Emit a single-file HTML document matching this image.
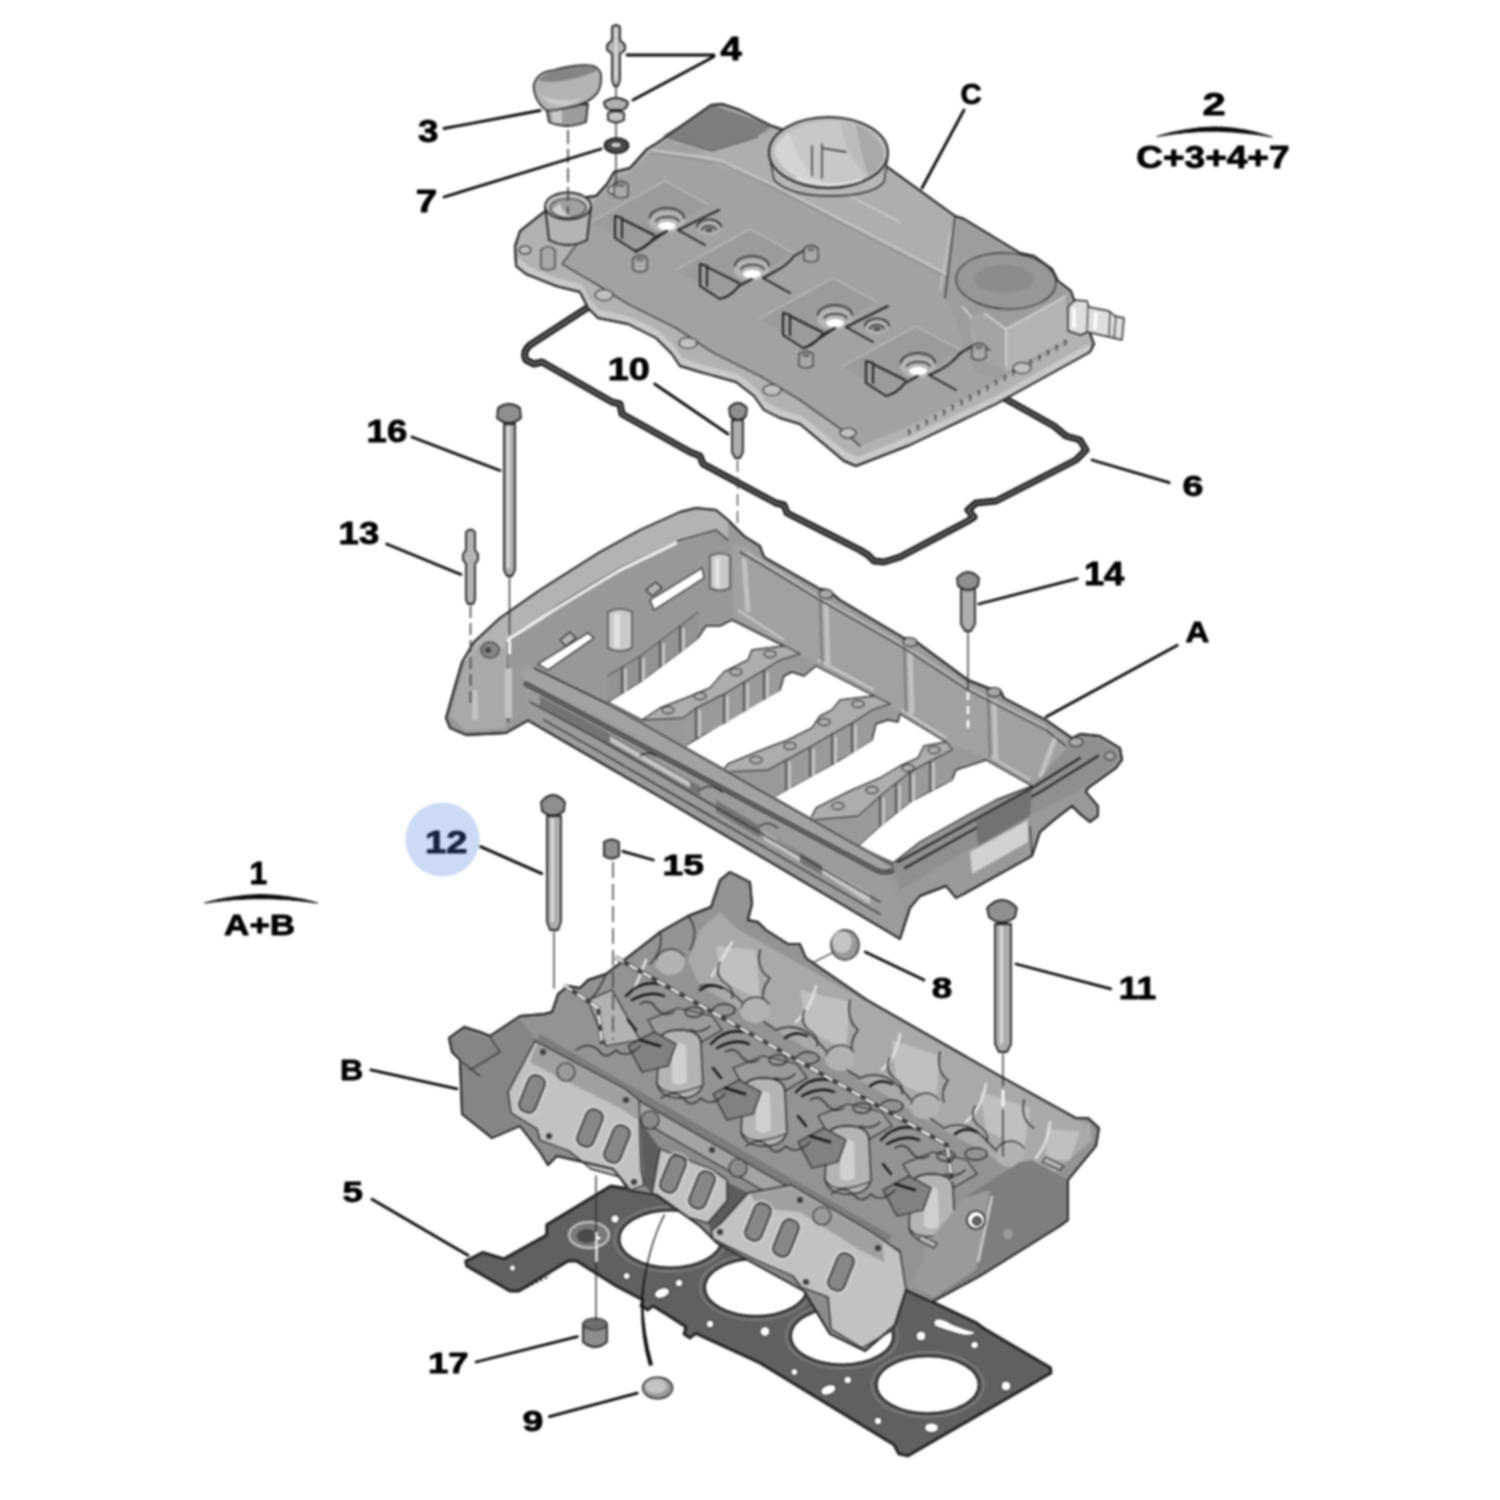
<!DOCTYPE html>
<html><head><meta charset="utf-8"><title>Cylinder head diagram</title>
<style>
html,body{margin:0;padding:0;background:#fff}
svg{display:block}
text{font-family:"Liberation Sans",sans-serif;font-weight:bold;stroke:#000;stroke-width:0.9px;stroke-linejoin:round}
</style></head><body>
<svg width="1500" height="1500" viewBox="0 0 1500 1500">
<rect width="1500" height="1500" fill="#fff"/>
<g filter="url(#soft)">
<defs><filter id="soft" x="0" y="0" width="1500" height="1500" filterUnits="userSpaceOnUse" color-interpolation-filters="sRGB"><feGaussianBlur stdDeviation="0.8"/></filter></defs>
<!-- 10_gasket5.svg -->
<g id="gasket5">
<path fill="#606060" stroke="#1f1f1f" stroke-width="2.8" stroke-linejoin="round" d="M465.6,1261 L482.7,1252.4 L504,1258.8 L546.7,1235 L546.7,1224.7 L610.7,1186 L700,1200 L928,1299.7 L975.7,1322.4 L984.8,1329 L1050.5,1367.7 L1051,1373 L907.7,1456 L898.7,1453.9 L894,1444.8 L760,1363 L696,1333.5 L690,1338 L684,1334 L686,1327 L666,1314 L653,1306 L648,1310 L641,1306 L643,1300 L617,1286.5 L576.5,1261 L568,1261 L519,1291 L510,1291 L466.7,1266 Z"/>
<g fill="#fff" stroke="#1f1f1f" stroke-width="2">
<ellipse cx="670.5" cy="1239" rx="51" ry="28.5"/>
<ellipse cx="756" cy="1287.5" rx="51" ry="28.5"/>
<ellipse cx="842" cy="1336" rx="51" ry="28.5"/>
<ellipse cx="927.7" cy="1384.7" rx="51" ry="28.5"/>
</g>
<g fill="none" stroke="#8a8a8a" stroke-width="1.3">
<ellipse cx="670.5" cy="1239" rx="56" ry="32.5"/>
<ellipse cx="756" cy="1287.5" rx="56" ry="32.5"/>
<ellipse cx="842" cy="1336" rx="56" ry="32.5"/>
<ellipse cx="927.7" cy="1384.7" rx="56" ry="32.5"/>
</g>
<ellipse cx="589" cy="1235" rx="20" ry="13" fill="#7a7a7a" stroke="#d0d0d0" stroke-width="2"/>
<ellipse cx="587" cy="1236" rx="10" ry="7" fill="#4a4a4a"/>
<g fill="#fff" stroke="#2a2a2a" stroke-width="1">
<circle cx="615" cy="1219" r="4.2"/><circle cx="512.5" cy="1268" r="3.2"/><circle cx="626.7" cy="1276" r="3.6"/>
<ellipse cx="662" cy="1293" rx="8" ry="5" transform="rotate(-20 662 1293)"/><circle cx="679" cy="1283" r="4"/><circle cx="710" cy="1324" r="4"/>
<circle cx="765" cy="1331.5" r="5"/><circle cx="794.4" cy="1372" r="3.6"/><ellipse cx="828.4" cy="1390" rx="8" ry="5" transform="rotate(-20 828 1390)"/><circle cx="847.7" cy="1380" r="4"/>
<circle cx="878" cy="1421" r="4"/><ellipse cx="931.5" cy="1427.8" rx="7" ry="5"/><circle cx="921" cy="1336" r="5"/><circle cx="974.6" cy="1345" r="4"/><circle cx="1006" cy="1386" r="5"/>
<path d="M934,1320 Q940,1316 952,1324 Q966,1330 976,1332 Q972,1338 958,1334 Q944,1330 934,1326Z"/>
<circle cx="599" cy="1238" r="2.5"/>
</g>
<path fill="none" stroke="#222" stroke-width="2" stroke-dasharray="2 3" d="M527,1287 L550,1276"/>
</g>

<!-- 20_head.svg -->
<g id="head">
<path stroke="#262626" stroke-width="1.9" stroke-linejoin="round" stroke-linecap="round" fill="#939393" d="M449,1038 L464,1027 L480,1032 L490,1036 L520,1016 L544,1014 L552,1012 L558,994 L568,986 L580,988 L588,980 L606,974 L650,940 L660,932 L688,916 L711,907 L720,880 L730,872 L750,882 L752,904 L748,920 L758,922 L766,930 L788,944 L800,944 L806,958 L867,1000 L1000,1076 L1076,1118 L1088,1118 L1099,1128 L1096,1146 L1068,1180 L1068,1220 L1060,1226 L980,1276 L932,1302 L906,1290 L895,1325 L865,1351 L830,1334 L804,1291 L717,1243 L700,1226 L657,1195 L631,1191 L613,1169 L557,1156 L548,1165 L540,1152 L520,1126 L492,1138 L462,1114 L460,1060 L452,1052 Z"/>
<!-- left lug darker -->
<path stroke="none" fill="#858585" d="M451,1040 L464,1030 L490,1039 L520,1019 L536,1040 L508,1110 L520,1124 L492,1135 L464,1112 L462,1058 L453,1050Z"/>
<path stroke="#2b2b2b" stroke-width="1.1" stroke-linejoin="round" stroke-linecap="round" fill="none" d="M490,1037 L500,1052 L470,1070 M462,1062 L480,1076"/>
<!-- back strip -->
<path stroke="none" fill="#a9a9a9" d="M736,928 L1076,1120 L1090,1124 L1092,1140 L1040,1186 L980,1150 L940,1128 L860,1080 L776,1030 L700,986 L688,960 L700,930 L720,912Z"/>
<g stroke="none" fill="#c0c0c0">
<path d="M716,946 L756,950 L760,1000 L720,980Z"/><path d="M800,990 L850,1002 L846,1050 L806,1030Z"/><path d="M892,1040 L940,1056 L936,1100 L896,1082Z"/><path d="M980,1092 L1030,1108 L1024,1150 L986,1130Z"/><path d="M1046,1128 L1080,1132 L1070,1160 L1046,1160Z"/>
</g>
<g fill="none" stroke="#e6e6e6" stroke-width="2.4" stroke-linecap="round">
<path d="M732,942 Q722,960 712,976"/><path d="M816,986 Q810,1010 796,1022"/><path d="M900,1034 Q896,1058 882,1070"/><path d="M986,1084 Q982,1108 966,1122"/><path d="M1050,1122 Q1048,1144 1036,1158"/><path d="M646,960 Q640,976 634,990"/>
</g>
<g stroke="#2b2b2b" stroke-linejoin="round" stroke-linecap="round" fill="none" stroke-width="1.4">
<path d="M760,950 Q756,970 770,978 Q760,990 764,1002"/><path d="M850,1000 Q846,1020 858,1030 Q850,1040 852,1052"/><path d="M940,1052 Q936,1072 948,1080 Q940,1092 944,1102"/><path d="M1024,1100 Q1020,1120 1034,1128"/>
<path d="M700,986 Q720,980 740,1000 Q760,1020 776,1030 Q800,1020 820,1044 Q840,1068 860,1078 Q884,1068 904,1092 Q924,1116 944,1128 Q966,1118 986,1140 Q1000,1156 1020,1166"/>
</g>
<!-- center tower zone blobs -->
<g stroke="none" fill="#b2b2b2">
<ellipse cx="670" cy="962" rx="15" ry="13"/><ellipse cx="755" cy="1010" rx="15" ry="13"/><ellipse cx="840" cy="1058" rx="15" ry="13"/><ellipse cx="925" cy="1106" rx="15" ry="13"/><ellipse cx="1010" cy="1154" rx="15" ry="13"/>
</g>
<g stroke="#2b2b2b" stroke-linejoin="round" stroke-linecap="round" fill="none" stroke-width="1.2"><path d="M656,960 a15,13 0 0 1 28,-4"/><path d="M741,1008 a15,13 0 0 1 28,-4"/><path d="M826,1056 a15,13 0 0 1 28,-4"/><path d="M911,1104 a15,13 0 0 1 28,-4"/><path d="M996,1152 a15,13 0 0 1 28,-4"/></g>
<path stroke="#262626" stroke-linejoin="round" stroke-linecap="round" stroke-width="1.2" fill="#b2b2b2" d="M588,1000 L612,990 L640,1040 L606,1046Z"/>
<g stroke="#262626" stroke-linejoin="round" stroke-linecap="round" stroke-width="1.2" fill="#9a9a9a">
<path d="M648,1020 l30,-12 l34,8 l10,14 l-24,14 l-40,-6z"/><path d="M733,1068 l30,-12 l34,8 l10,14 l-24,14 l-40,-6z"/><path d="M818,1116 l30,-12 l34,8 l10,14 l-24,14 l-40,-6z"/><path d="M903,1164 l30,-12 l34,8 l10,14 l-24,14 l-40,-6z"/>
</g>
<path stroke="#262626" stroke-linejoin="round" stroke-linecap="round" stroke-width="1.3" fill="#b4b4b4" d="M659,1044 q0,-14 20,-14 q22,0 22,14 l2,40 q-4,14 -22,14 q-20,0 -24,-14z"/><path stroke="none" fill="#cfcfcf" d="M672,1046 q8,-6 14,0 l1,36 q-8,6 -15,0z"/><path stroke="#2b2b2b" stroke-linejoin="round" stroke-linecap="round" fill="none" stroke-width="1.2" d="M659,1044 q0,-14 20,-14 q22,0 22,14 M657,1084 q10,16 44,2"/>
<path stroke="#262626" stroke-linejoin="round" stroke-linecap="round" stroke-width="1.3" fill="#b4b4b4" d="M743,1092 q0,-14 20,-14 q22,0 22,14 l2,40 q-4,14 -22,14 q-20,0 -24,-14z"/><path stroke="none" fill="#cfcfcf" d="M756,1094 q8,-6 14,0 l1,36 q-8,6 -15,0z"/><path stroke="#2b2b2b" stroke-linejoin="round" stroke-linecap="round" fill="none" stroke-width="1.2" d="M743,1092 q0,-14 20,-14 q22,0 22,14 M741,1132 q10,16 44,2"/>
<path stroke="#262626" stroke-linejoin="round" stroke-linecap="round" stroke-width="1.3" fill="#b4b4b4" d="M827,1140 q0,-14 20,-14 q22,0 22,14 l2,40 q-4,14 -22,14 q-20,0 -24,-14z"/><path stroke="none" fill="#cfcfcf" d="M840,1142 q8,-6 14,0 l1,36 q-8,6 -15,0z"/><path stroke="#2b2b2b" stroke-linejoin="round" stroke-linecap="round" fill="none" stroke-width="1.2" d="M827,1140 q0,-14 20,-14 q22,0 22,14 M825,1180 q10,16 44,2"/>
<path stroke="#262626" stroke-linejoin="round" stroke-linecap="round" stroke-width="1.3" fill="#b4b4b4" d="M911,1188 q0,-14 20,-14 q22,0 22,14 l2,40 q-4,14 -22,14 q-20,0 -24,-14z"/><path stroke="none" fill="#cfcfcf" d="M924,1190 q8,-6 14,0 l1,36 q-8,6 -15,0z"/><path stroke="#2b2b2b" stroke-linejoin="round" stroke-linecap="round" fill="none" stroke-width="1.2" d="M911,1188 q0,-14 20,-14 q22,0 22,14 M909,1228 q10,16 44,2"/>
<g stroke="#262626" stroke-linejoin="round" stroke-linecap="round" stroke-width="1.2" fill="#818181">
<path d="M628,1046 l26,-14 l22,12 l-8,22 l-26,6z"/><path d="M713,1094 l26,-14 l22,12 l-8,22 l-26,6z"/><path d="M798,1142 l26,-14 l22,12 l-8,22 l-26,6z"/><path d="M883,1190 l26,-14 l22,12 l-8,22 l-26,6z"/>
</g>
<g stroke="#2b2b2b" stroke-linejoin="round" stroke-linecap="round" fill="none" stroke-width="1.4">
<ellipse cx="694" cy="1012" rx="9" ry="5"/><ellipse cx="724" cy="1010" rx="11" ry="6"/><ellipse cx="778" cy="1060" rx="9" ry="5"/><ellipse cx="808" cy="1058" rx="11" ry="6"/><ellipse cx="862" cy="1108" rx="9" ry="5"/><ellipse cx="892" cy="1106" rx="11" ry="6"/><ellipse cx="946" cy="1156" rx="9" ry="5"/><ellipse cx="976" cy="1154" rx="11" ry="6"/>
</g>
<g fill="none" stroke="#141414" stroke-width="2.4" stroke-linecap="round">
<path d="M626,996 q14,-16 34,-12 M632,1000 q18,-10 32,-4 M628,1020 l8,10 M640,1040 l20,6 M700,990 q10,-8 22,-2"/><path d="M711,1044 q14,-16 34,-12 M717,1048 q18,-10 32,-4 M713,1068 l8,10 M725,1088 l20,6 M785,1038 q10,-8 22,-2"/><path d="M796,1092 q14,-16 34,-12 M802,1096 q18,-10 32,-4 M798,1116 l8,10 M810,1136 l20,6 M870,1086 q10,-8 22,-2"/><path d="M881,1140 q14,-16 34,-12 M887,1144 q18,-10 32,-4 M883,1164 l8,10 M895,1184 l20,6 M955,1134 q10,-8 22,-2"/>
</g>
<g stroke="#2b2b2b" stroke-linejoin="round" stroke-linecap="round" fill="none" stroke-width="1.3">
<path d="M576,1050 q14,-10 24,2 q6,8 16,-2 q10,10 24,-4"/><path d="M661,1098 q14,-10 24,2 q6,8 16,-2 q10,10 24,-4"/><path d="M746,1146 q14,-10 24,2 q6,8 16,-2 q10,10 24,-4"/><path d="M831,1194 q14,-10 24,2 q6,8 16,-2 q10,10 24,-4"/><path d="M606,974 Q600,990 590,1000 M660,932 Q664,950 650,964 M688,916 Q700,930 690,950"/>
</g>
<g stroke="#2b2b2b" stroke-linejoin="round" stroke-linecap="round" fill="none" stroke-width="1.4">
<path d="M640,1004 q10,-6 16,4 q8,10 18,4 M720,962 q-6,12 4,20 q10,6 8,16 M690,1030 q12,4 20,-4"/><path d="M725,1052 q10,-6 16,4 q8,10 18,4 M805,1010 q-6,12 4,20 q10,6 8,16 M775,1078 q12,4 20,-4"/><path d="M810,1100 q10,-6 16,4 q8,10 18,4 M890,1058 q-6,12 4,20 q10,6 8,16 M860,1126 q12,4 20,-4"/><path d="M895,1148 q10,-6 16,4 q8,10 18,4 M975,1106 q-6,12 4,20 q10,6 8,16 M945,1174 q12,4 20,-4"/>
</g>
<!-- right end face -->
<path stroke="none" fill="#7e7e7e" d="M964,1198 L1020,1162 L1032,1160 L1068,1180 L1068,1219 L980,1275 L934,1300 L912,1286 L940,1250Z"/>
<path stroke="none" fill="#9a9a9a" d="M964,1198 L990,1190 L976,1270 L934,1298 L912,1286 L930,1240Z"/>
<path fill="none" stroke="#cfcfcf" stroke-width="2.500" d="M992,1196 L978,1262"/>
<circle cx="1008" cy="1234" r="5" fill="#9a9a9a"/>
<circle cx="976" cy="1220" r="9" fill="#fff" stroke="#222" stroke-width="1.600"/><circle cx="977" cy="1221" r="4.500" fill="#666" stroke="#222"/>
<path stroke="#2b2b2b" stroke-width="1.1" stroke-linejoin="round" stroke-linecap="round" fill="#b5b5b5" d="M1042,1162 L1060,1170 L1064,1166 L1046,1157Z M918,1240 L934,1248 L937,1243 L921,1235Z"/>
<!-- intake flange -->
<path stroke="none" fill="#8c8c8c" d="M534,1040 L900,1250 L906,1290 L893,1330 L862,1348 L830,1330 L806,1292 L716,1242 L700,1226 L656,1196 L630,1192 L612,1170 L556,1156 L548,1164 L540,1152 L508,1112Z"/>
<path stroke="none" fill="#7c7c7c" d="M540,1034 L892,1236 L886,1244 L534,1042Z"/>
<path stroke="#262626" stroke-linejoin="round" stroke-linecap="round" stroke-width="1.1" fill="#a4a4a4" d="M535,1041 L900,1251 L902,1270 L640,1120 L537,1062Z"/>
<path stroke="none" fill="#5c5c5c" d="M641,1122 L660,1149 L652,1193 L644,1185Z M727,1182 L748,1193 L721,1223 L711,1231 L708,1223 L727,1201Z"/>
<g stroke="#262626" stroke-linejoin="round" stroke-linecap="round" fill="#c2c2c2" stroke-width="1.300">
<path d="M535,1041 L625,1089 L639,1100 L641,1169 L644,1185 L628,1191 L620,1177 L591,1169 L569,1151 L553,1145 L540,1140 L537,1129 L511,1113 L508,1092Z"/>
<path d="M660,1149 L711,1169 L727,1180 L727,1201 L708,1223 L687,1217 L652,1193Z"/>
<path d="M711,1231 L721,1223 L748,1193 L791,1185 L873,1233 L900,1252 L906,1290 L893,1330 L862,1348 L831,1329 L828,1297 L801,1287 L793,1276 L756,1260 L713,1239Z"/>
</g>
<g stroke="none" fill="#a0a0a0">
<path d="M537,1043 L625,1091 L638,1101 L638,1120 L620,1108 L560,1078 L530,1062Z"/>
<path d="M750,1194 L791,1187 L873,1235 L883,1243 L884,1262 L860,1250 L800,1212 L760,1208Z"/>
</g>
<g stroke="#262626" stroke-linejoin="round" stroke-linecap="round" fill="#878787" stroke-width="1.4">
<rect x="-8.500" y="-19" width="17" height="38" rx="7" transform="translate(532,1094) rotate(22)"/>
<rect x="-8.500" y="-19" width="17" height="38" rx="7" transform="translate(590,1128) rotate(22)"/>
<rect x="-8.500" y="-19" width="17" height="38" rx="7" transform="translate(617,1144) rotate(22)"/>
<rect x="-8.500" y="-19" width="17" height="38" rx="7" transform="translate(673,1174) rotate(22)"/>
<rect x="-8.500" y="-19" width="17" height="38" rx="7" transform="translate(702,1190) rotate(22)"/>
<rect x="-8.500" y="-19" width="17" height="38" rx="7" transform="translate(758,1222) rotate(22)"/>
<rect x="-8.500" y="-19" width="17" height="38" rx="7" transform="translate(786,1238) rotate(22)"/>
<rect x="-8.500" y="-19" width="17" height="38" rx="7" transform="translate(841,1272) rotate(22)"/>
</g>
<g fill="none" stroke="#d6d6d6" stroke-width="1.2">
<rect x="-11" y="-21.500" width="22" height="43" rx="9" transform="translate(532,1094) rotate(22)"/>
<rect x="-11" y="-21.500" width="22" height="43" rx="9" transform="translate(590,1128) rotate(22)"/>
<rect x="-11" y="-21.500" width="22" height="43" rx="9" transform="translate(617,1144) rotate(22)"/>
<rect x="-11" y="-21.500" width="22" height="43" rx="9" transform="translate(673,1174) rotate(22)"/>
<rect x="-11" y="-21.500" width="22" height="43" rx="9" transform="translate(702,1190) rotate(22)"/>
<rect x="-11" y="-21.500" width="22" height="43" rx="9" transform="translate(758,1222) rotate(22)"/>
<rect x="-11" y="-21.500" width="22" height="43" rx="9" transform="translate(786,1238) rotate(22)"/>
<rect x="-11" y="-21.500" width="22" height="43" rx="9" transform="translate(841,1272) rotate(22)"/>
</g>
<g stroke="none" fill="#3c3c3c"><circle cx="543" cy="1052" r="3"/><circle cx="549" cy="1136" r="3"/><circle cx="626" cy="1100" r="3"/><circle cx="634" cy="1182" r="3"/><circle cx="712" cy="1150" r="3"/><circle cx="720" cy="1232" r="3"/><circle cx="800" cy="1200" r="3"/><circle cx="806" cy="1282" r="3"/><circle cx="878" cy="1248" r="3"/></g>
<ellipse stroke="#2b2b2b" stroke-width="1.1" stroke-linejoin="round" stroke-linecap="round" cx="566" cy="1072" rx="9" ry="9" fill="#999"/><ellipse stroke="#2b2b2b" stroke-width="1.1" stroke-linejoin="round" stroke-linecap="round" cx="650" cy="1120" rx="9" ry="9" fill="#8a8a8a"/><ellipse stroke="#2b2b2b" stroke-width="1.1" stroke-linejoin="round" stroke-linecap="round" cx="738" cy="1168" rx="9" ry="9" fill="#8a8a8a"/><ellipse stroke="#2b2b2b" stroke-width="1.1" stroke-linejoin="round" stroke-linecap="round" cx="822" cy="1216" rx="9" ry="9" fill="#999"/>
<path stroke-linejoin="round" stroke-linecap="round" fill="none" stroke-width="1.9" stroke="#262626" d="M449,1038 L464,1027 L480,1032 L490,1036 L520,1016 L544,1014 L552,1012 L558,994 L568,986 L580,988 L588,980 L606,974 L650,940 L660,932 L688,916 L711,907 L720,880 L730,872 L750,882 L752,904 L748,920 L758,922 L766,930 L788,944 L800,944 L806,958 L867,1000 L1000,1076 L1076,1118 L1088,1118 L1099,1128 L1096,1146 L1068,1180 L1068,1220 L1060,1226 L980,1276 L932,1302 L906,1290 L895,1325 L865,1351 L830,1334 L804,1291 L717,1243 L700,1226 L657,1195 L631,1191 L613,1169 L557,1156 L548,1165 L540,1152 L520,1126 L492,1138 L462,1114 L460,1060 L452,1052 Z"/>
<!-- dashed gasket path -->
<path fill="none" stroke="#3a3a3a" stroke-width="3.8" d="M615,957 L947,1145 L952,1181 M564,985 L598,1008 L602,1044"/>
<path fill="none" stroke="#fff" stroke-width="2.3" stroke-dasharray="10 6" d="M615,957 L947,1145 L952,1181 M564,985 L598,1008 L602,1044"/>
</g>

<!-- 30_carrier.svg -->
<g id="carrier">
<!-- silhouette -->
<path stroke="#262626" stroke-width="1.9" stroke-linejoin="round" stroke-linecap="round" fill="#999" d="M446,718 L455,686 L462,662 L474,642 L500,618 L540,590 L600,552 L640,530 L680,512 L696,508 L716,510 L728,520 L744,536 L760,546 L764,557 L820,589 L828,590 L840,600 L904,638 L914,640 L968,680 L988,688 L1000,690 L1004,698 L1046,720 L1072,738 L1080,734 L1100,736 L1120,748 L1122,760 L1116,768 L1088,788 L1086,792 L1098,806 L1098,816 L1090,822 L1080,814 L1072,806 L1054,820 L1040,832 L1032,856 L964,894 L956,898 L946,886 L920,896 L910,908 L900,939 L880,927 L660,797 L640,785.5 L616,771.6 L564,741.4 L528,720.5 L506,733 L466,735 L450,728 Z"/>
<!-- arch top band (lighter) -->
<path stroke="none" fill="#b3b3b3" d="M462,662 L474,642 L500,618 L540,590 L600,552 L640,530 L680,512 L696,508 L716,510 L728,520 L728,540 L716,530 L680,540 L620,568 L560,604 L508,642 L508,666 L480,660 Z"/>
<path stroke="#2b2b2b" stroke-width="1.1" stroke-linejoin="round" stroke-linecap="round" fill="none" d="M508,642 L560,604 L620,568 L680,540 L716,530 L728,540 M508,642 V722"/>
<!-- arch inner wall -->
<path stroke="none" fill="#989898" d="M508,646 L560,610 L620,574 L680,545 L716,534 L730,545 L736,612 L700,640 L640,684 L606,700 L534,666 L508,666 Z"/>
<path stroke="#262626" stroke-linejoin="round" stroke-linecap="round" fill="#fff" stroke-width="1.2" d="M538,664 L588,633 L594,638 L548,670 Z"/>
<path stroke="#262626" stroke-linejoin="round" stroke-linecap="round" fill="#fff" stroke-width="1.2" d="M650,600 L702,568 L704,578 L654,610 Z"/>
<path fill="none" stroke="#f4f4f4" stroke-width="3.2" stroke-linecap="round" d="M508,640 L560,606 L620,570 L676,543"/>
<!-- pillars -->
<g stroke="#2b2b2b" stroke-width="1.1" stroke-linejoin="round" stroke-linecap="round" fill="#c9c9c9"><path d="M608,612 q12,-6 24,0 v36 q-12,6 -24,0z"/><path d="M710,556 q10,-5 20,0 v32 q-10,5 -20,0z"/></g>
<g stroke="none" fill="#e2e2e2"><path d="M614,614 h6 v34 h-6z"/><path d="M715,558 h5 v30 h-5z"/></g>
<g stroke="#2b2b2b" stroke-width="1.1" stroke-linejoin="round" stroke-linecap="round" fill="#b4b4b4"><path d="M560,640 l10,-8 l6,6 l-10,8z"/><path d="M646,590 l10,-8 l6,6 l-10,8z"/></g>
<!-- left end face -->
<path stroke="none" fill="#a9a9a9" d="M450,716 L458,686 L466,664 L478,646 L506,648 L506,728 L466,731 Z"/>
<ellipse stroke="#2b2b2b" stroke-width="1.1" stroke-linejoin="round" stroke-linecap="round" cx="490" cy="650" rx="9" ry="8" fill="#888"/>
<ellipse stroke="none" cx="488" cy="650" rx="3" ry="3" fill="#444"/>
<path stroke="none" fill="#c2c2c2" d="M505,668 h7 v50 h-7z M472,690 h6 v30 h-6z"/>
<!-- back wall inner face -->
<path stroke="none" fill="#a1a1a1" d="M744,546 L764,560 L820,594 L904,642 L968,684 L1046,724 L1072,742 L1032,784 L986,758 L946,742 L900,714 L874,694 L816,664 L784,646 L734,616 L732,545 Z"/>
<path fill="none" stroke="#cfcfcf" stroke-width="2" d="M738,610 L784,640 M818,660 L874,690 M902,710 L946,738 M990,756 L1030,780"/>
<path fill="none" stroke="#c4c4c4" stroke-width="1.8" d="M746,552 L820,598 L904,646 L968,688 L1046,728"/>
<path fill="none" stroke="#c2c2c2" stroke-width="5" d="M744,558 L748,612 M826,604 L828,664 M910,652 L912,714 M994,700 L996,760 M1056,736 L1040,778"/>
<path stroke-linejoin="round" stroke-linecap="round" fill="none" stroke-width="1" stroke="#555" d="M820,600 L822,664 M904,648 L906,712 M988,696 L990,758"/>
<path stroke="#2b2b2b" stroke-linejoin="round" stroke-linecap="round" fill="none" stroke-width="1.3" d="M740,552 L764,566 L820,600 L904,648 L968,690 L1046,730 L1066,746"/>
<!-- bays -->
<g stroke="#262626" stroke-linejoin="round" stroke-linecap="round" fill="#fff" stroke-width="1.4">
<path d="M608,702 L640,682 L680,652 L698,638 L706,626 L720,626 L732,620 L784,646 L752,650 L748,660 L724,672 L710,688 L686,698 L660,708 L642,720 Z"/>
<path d="M682,748 L744,710 L780,690 L784,676 L792,672 L804,676 L816,666 L874,696 L840,700 L832,710 L820,716 L812,728 L788,740 L772,746 L752,754 L728,764 L722,772 Z"/>
<path d="M768,800 L840,760 L872,740 L876,724 L888,720 L898,722 L900,714 L946,742 L924,746 L918,758 L900,766 L880,778 L852,790 L832,800 L816,808 L810,820 Z"/>
<path d="M858,846 L880,826 L910,802 L952,780 L956,770 L986,760 L1032,786 L996,800 L966,816 L920,842 L893,863 Z"/>
</g>
<!-- cross member ribs -->
<path stroke="none" fill="#939393" d="M608,702 L622,693 L640,682 L660,667 L680,652 L698,638 L698,612 L680,626 L660,641 L640,656 L622,667 L608,676Z"/>
<path fill="none" stroke="#c4c4c4" stroke-width="3" d="M625.5,692 V669 M643.5,681 V658 M663.5,666 V643 M683.5,651 V628 "/>
<path fill="none" stroke="#333" stroke-width="1.3" d="M622,693 V667 M640,682 V656 M660,667 V641 M680,652 V626 "/>
<path fill="none" stroke="#444" stroke-width="1" d="M698,612 L680,626 L660,641 L640,656 L622,667 L608,676"/>
<path stroke="none" fill="#9a9a9a" d="M683,748 L696,738 L724,724 L744,712 L764,700 L780,690 L780,660 L764,670 L744,682 L724,694 L696,708 L683,718Z"/>
<path fill="none" stroke="#c4c4c4" stroke-width="3" d="M699.5,737 V710 M727.5,723 V696 M747.5,711 V684 M767.5,699 V672 "/>
<path fill="none" stroke="#333" stroke-width="1.3" d="M696,738 V708 M724,724 V694 M744,712 V682 M764,700 V670 "/>
<path fill="none" stroke="#444" stroke-width="1" d="M780,660 L764,670 L744,682 L724,694 L696,708 L683,718"/>
<path stroke="none" fill="#9a9a9a" d="M768,800 L786,790 L810,777 L832,764 L852,753 L872,740 L872,710 L852,723 L832,734 L810,747 L786,760 L768,770Z"/>
<path fill="none" stroke="#c4c4c4" stroke-width="3" d="M789.5,789 V762 M813.5,776 V749 M835.5,763 V736 M855.5,752 V725 "/>
<path fill="none" stroke="#333" stroke-width="1.3" d="M786,790 V760 M810,777 V747 M832,764 V734 M852,753 V723 "/>
<path fill="none" stroke="#444" stroke-width="1" d="M872,710 L852,723 L832,734 L810,747 L786,760 L768,770"/>
<path stroke="none" fill="#9a9a9a" d="M858,846 L880,826 L896,813 L910,802 L930,791 L952,780 L952,750 L930,761 L910,772 L896,783 L880,796 L858,816Z"/>
<path fill="none" stroke="#c4c4c4" stroke-width="3" d="M883.5,825 V798 M899.5,812 V785 M913.5,801 V774 M933.5,790 V763 "/>
<path fill="none" stroke="#333" stroke-width="1.3" d="M880,826 V796 M896,813 V783 M910,802 V772 M930,791 V761 "/>
<path fill="none" stroke="#444" stroke-width="1" d="M952,750 L930,761 L910,772 L896,783 L880,796 L858,816"/>
<g stroke="#262626" stroke-linejoin="round" stroke-linecap="round" stroke-width="1" fill="#adadad">
<path d="M784,646 L752,650 L748,660 L724,672 L710,688 L686,698 L660,708 L642,720 L683,718 L696,708 L724,694 L744,682 L764,670 L780,660 L800,654Z"/>
<path d="M874,696 L840,700 L832,710 L820,716 L812,728 L788,740 L772,746 L752,754 L728,764 L722,772 L768,770 L786,760 L810,747 L832,734 L852,723 L872,710 L890,704Z"/>
<path d="M946,742 L924,746 L918,758 L900,766 L880,778 L852,790 L832,800 L816,808 L810,820 L858,816 L880,796 L896,783 L910,772 L930,761 L952,750Z"/>
</g>
<g stroke="#2b2b2b" stroke-linejoin="round" stroke-linecap="round" fill="none" stroke-width="1.1">
<ellipse cx="770" cy="654" rx="6" ry="3.500"/><ellipse cx="736" cy="672" rx="6" ry="3.500"/><ellipse cx="700" cy="696" rx="6" ry="3.500"/><ellipse cx="668" cy="710" rx="6" ry="3.500"/>
<ellipse cx="858" cy="704" rx="6" ry="3.500"/><ellipse cx="824" cy="722" rx="6" ry="3.500"/><ellipse cx="790" cy="746" rx="6" ry="3.500"/><ellipse cx="756" cy="760" rx="6" ry="3.500"/>
<ellipse cx="934" cy="750" rx="6" ry="3.500"/><ellipse cx="908" cy="768" rx="6" ry="3.500"/><ellipse cx="872" cy="790" rx="6" ry="3.500"/><ellipse cx="838" cy="806" rx="6" ry="3.500"/>
</g>
<!-- front rail -->
<path stroke="none" fill="#a2a2a2" d="M520,672 L534,666 L608,702 L893,864 L886,877 L600,716 L524,680Z"/>
<path stroke="none" fill="#9b9b9b" d="M524,680 L600,716 L886,877 L905,910 L900,937 L880,925 L660,795 L564,740 L528,719 Z"/>
<path stroke="none" fill="#737373" d="M540,696 L600,728 L700,786 L700,796 L600,740 L540,706Z M716,800 L760,826 L760,838 L716,812Z M776,838 L850,882 L850,892 L776,848Z"/>
<path stroke="none" fill="#c6c6c6" d="M610,736 L690,782 L690,788 L610,742Z M764,832 L800,854 L800,862 L764,840Z M822,866 L870,894 L870,904 L822,874Z"/>
<path stroke-linejoin="round" stroke-linecap="round" fill="none" stroke-width="4.6" stroke="#333" d="M526,684 L876,870 Q886,875 896,869 L1100,759"/>
<path stroke-linejoin="round" stroke-linecap="round" fill="none" stroke-width="1.6" stroke="#808080" d="M526,684 L876,870 Q886,875 896,869 L1100,759"/>
<path stroke="#2b2b2b" stroke-linejoin="round" stroke-linecap="round" fill="none" stroke-width="1.4" d="M534,668 L608,704 L893,866 M530,702 L600,740 L880,902 M544,720 L600,752 L880,914"/>
<path stroke="#2b2b2b" stroke-linejoin="round" stroke-linecap="round" fill="none" stroke-width="1.3" d="M640,756 q8,-6 16,0 M700,790 q10,-8 22,2 M760,826 q8,-6 18,2"/>
<!-- right end rail -->
<path stroke="none" fill="#8f8f8f" d="M1072,742 L1084,738 L1100,740 L1116,750 L1118,760 L1112,766 L1086,786 L1032,814 L964,852 L900,890 L893,866 L966,818 L996,802 L1032,788 Z"/>
<path stroke="#2b2b2b" stroke-linejoin="round" stroke-linecap="round" fill="none" stroke-width="2.2" d="M1080,758 L1032,788 L898,862 M1098,756 L1040,792 L905,868"/>
<path stroke="none" fill="#d2d2d2" d="M970,852 L1028,820 L1028,842 L972,874Z"/>
<path stroke="none" fill="#727272" d="M976,820 L1032,790 L1030,816 L978,846Z"/>
<path stroke="#2b2b2b" stroke-width="1.1" stroke-linejoin="round" stroke-linecap="round" fill="none" d="M1040,832 L1054,820 L1072,806 M1032,856 L1030,826"/>
<path stroke-linejoin="round" stroke-linecap="round" fill="none" stroke-width="1.9" stroke="#262626" d="M446,718 L455,686 L462,662 L474,642 L500,618 L540,590 L600,552 L640,530 L680,512 L696,508 L716,510 L728,520 L744,536 L760,546 L764,557 L820,589 L828,590 L840,600 L904,638 L914,640 L968,680 L988,688 L1000,690 L1004,698 L1046,720 L1072,738 L1080,734 L1100,736 L1120,748 L1122,760 L1116,768 L1088,788 L1086,792 L1098,806 L1098,816 L1090,822 L1080,814 L1072,806 L1054,820 L1040,832 L1032,856 L964,894 L956,898 L946,886 L920,896 L910,908 L900,939 L880,927 L660,797 L640,785.5 L616,771.6 L564,741.4 L528,720.5 L506,733 L466,735 L450,728 Z"/>
<!-- bosses on back rail -->
<g stroke="#2b2b2b" stroke-width="1.1" stroke-linejoin="round" stroke-linecap="round" fill="#a8a8a8"><ellipse cx="826" cy="594" rx="7" ry="4.5"/><ellipse cx="910" cy="642" rx="7" ry="4.5"/><ellipse cx="994" cy="692" rx="7" ry="4.5"/><ellipse cx="1076" cy="742" rx="7" ry="4.5"/><ellipse cx="1110" cy="756" rx="5" ry="4"/></g>
</g>

<!-- 40_gasket6.svg -->
<g id="gasket6" fill="none" stroke-linejoin="round" stroke-linecap="round">
<path id="g6p" stroke="#1e1e1e" stroke-width="7" d="M590,306 L530,345 Q522,352 526,360 L534,364 L542,362 L612,402 L620,404 L622,414 L690,452 L700,456 L703,464 L776,503 L784,505 L787,513 L860,550 L868,555 L874,561 L884,562 L900,557 L968,521 L974,517 L968,510 L976,503 L996,501 L1076,460 L1086,450 L1080,440 L1066,436 L1054,426 L1004,398"/>
<path stroke="#666" stroke-width="2.2" d="M590,306 L530,345 Q522,352 526,360 L534,364 L542,362 L612,402 L620,404 L622,414 L690,452 L700,456 L703,464 L776,503 L784,505 L787,513 L860,550 L868,555 L874,561 L884,562 L900,557 L968,521 L974,517 L968,510 L976,503 L996,501 L1076,460 L1086,450 L1080,440 L1066,436 L1054,426 L1004,398"/>
</g>

<!-- 50_cover.svg -->
<g id="cover">
<!-- flange / silhouette -->
<path stroke="#262626" stroke-width="1.9" stroke-linejoin="round" stroke-linecap="round" fill="#b2b2b2" d="M515,246 L520,231 L540,215 L560,200 L596,196 L607,184 L614,172 L630,168 L647,149 L657,143 L711,105 L722,104 L740,110 L772,126 L886,166 L955,216 L964,219 L1020,253 L1034,256 L1052,269 L1058,281 L1071,291 L1074,300 L1082,312 L1094,344 L1090,352 L996,404 L910,445 L856,466 L844,461 L800,424 L780,418 L764,410 L754,396 L736,382 L700,372 L680,366 L672,354 L656,338 L628,324 L598,318 L588,308 L580,292 L556,286 L526,274 L516,266 Z"/>
<!-- lighter vertical faces -->
<path stroke="none" fill="#c9c9c9" d="M517,256 L528,266 L556,278 L582,284 L590,300 L600,310 L628,316 L658,330 L674,346 L682,358 L700,364 L738,374 L756,388 L766,402 L782,410 L802,416 L846,452 L858,457 L910,436 L996,396 L1088,344 L1092,348 L1089,352 L996,403 L910,444 L856,465 L845,460 L800,423 L780,417 L764,409 L754,395 L736,381 L700,371 L680,365 L672,353 L656,337 L628,323 L598,317 L588,307 L580,291 L556,285 L526,273 L517,265Z"/>
<!-- top surface (body) -->
<path stroke="none" fill="#a2a2a2" d="M588,214 L596,200 L610,186 L616,176 L630,172 L650,152 L711,108 L740,113 L772,129 L886,169 L955,219 L964,222 L1020,256 L1034,259 L1050,271 L1056,283 L1069,293 L1070,300 L1066,330 L1068,342 L1000,380 L968,398 L905,428 L860,446 L842,430 L800,400 L760,376 L712,352 L676,328 L628,304 L596,284 L562,264 L580,240 Z"/>
<path stroke="#2b2b2b" stroke-linejoin="round" stroke-linecap="round" fill="none" stroke-width="1.2" d="M588,214 L580,240 L562,264 L596,284 L628,304 L676,328 L712,352 L760,376 L800,400 L842,430 L860,446"/>
<!-- ridge top face -->
<path stroke="none" fill="#aeaeae" d="M712,150 L764,134 L780,128 L886,168 L955,217 L947,276 L772,186 L690,154 Z"/>
<!-- ridge left slanted face -->
<path stroke="none" fill="#7e7e7e" d="M664,135 L714,105 L772,126 L756,137 L712,151 Z"/>
<path stroke-linejoin="round" stroke-linecap="round" fill="none" stroke-width="1" stroke="#555" d="M664,136 L712,151 L758,137"/>
<!-- ridge light lines -->
<path fill="none" stroke="#cacaca" stroke-width="1.8" d="M652,150 L720,160 L772,184 L947,274 M800,170 L900,222"/>
<path fill="none" stroke="#8a8a8a" stroke-width="1.2" d="M652,153 L720,163 L772,187 L946,277"/>
<path fill="none" stroke="#c4c4c4" stroke-width="1.6" d="M950,232 L940,290"/>
<path stroke="#2b2b2b" stroke-linejoin="round" stroke-linecap="round" fill="none" stroke-width="1.3" d="M955,217 L945,298"/>
<path stroke-linejoin="round" stroke-linecap="round" fill="none" stroke-width="1.9" stroke="#262626" d="M515,246 L520,231 L540,215 L560,200 L596,196 L607,184 L614,172 L630,168 L647,149 L657,143 L711,105 L722,104 L740,110 L772,126 L886,166 L955,216 L964,219 L1020,253 L1034,256 L1052,269 L1058,281 L1071,291 L1074,300 L1082,312 L1094,344 L1090,352 L996,404 L910,445 L856,466 L844,461 L800,424 L780,418 L764,410 L754,396 L736,382 L700,372 L680,366 L672,354 L656,338 L628,324 L598,318 L588,308 L580,292 L556,286 L526,274 L516,266 Z"/>
<!-- cylinder -->
<path stroke="#262626" stroke-linejoin="round" stroke-linecap="round" fill="#b6b6b6" stroke-width="1.3" d="M769,154 L774,180 Q790,196 830,196 Q872,196 884,182 L888,156 Z"/>
<ellipse stroke="#262626" stroke-linejoin="round" stroke-linecap="round" cx="828.500" cy="152.500" rx="59.500" ry="35.500" fill="#bcbcbc" stroke-width="2"/>
<path stroke="none" fill="#d4d4d4" d="M774,150 Q780,178 826,186 Q800,170 790,132 Q778,138 774,150Z"/>
<path stroke="none" fill="#c8c8c8" d="M790,132 Q800,170 826,186 Q850,186 868,176 Q846,160 840,121 Q810,120 790,132Z"/>
<path stroke="none" fill="#a9a9a9" d="M856,124 Q884,138 884,156 Q880,170 868,176 Q860,150 856,124Z"/>
<path stroke="#2b2b2b" stroke-linejoin="round" stroke-linecap="round" fill="none" stroke-width="1.3" d="M812,146 V176 M822,144 V178 M822,148 L846,152"/>
<path fill="none" stroke="#e4e4e4" stroke-width="2" d="M796,178 Q826,190 862,180"/>
<!-- right end: separator cap -->
<path stroke="none" fill="#9d9d9d" d="M957,220 L964,222 L1020,256 L1034,259 L1050,271 L1056,283 L1069,293 L1070,300 L1066,330 L1068,342 L1000,380 L975,372 L947,298 Z"/>
<path stroke="none" fill="#b3b3b3" d="M984,313 L1006,329 L1066,296 L1068,340 L1006,372 L975,350 L968,318Z"/>
<path stroke="none" fill="#a4a4a4" d="M968,318 L984,313 L1006,329 L1006,372 L980,360Z"/>
<ellipse stroke="#2b2b2b" stroke-width="1.1" stroke-linejoin="round" stroke-linecap="round" cx="1006" cy="281" rx="50" ry="28" fill="#979797" style="fill:#979797" transform="rotate(3 1006 281)"/>
<ellipse stroke="none" cx="1004" cy="279" rx="30" ry="14" fill="#8c8c8c"/>
<path fill="none" stroke="#d2d2d2" stroke-width="1.8" d="M984,313 L1006,329 L1066,296 M1006,329 V366 M962,306 L972,318"/>
<path stroke="#2b2b2b" stroke-width="1.1" stroke-linejoin="round" stroke-linecap="round" fill="none" d="M953,360 L964,351 L977,344 L990,350"/>
<!-- nozzle -->
<path stroke="#262626" stroke-linejoin="round" stroke-linecap="round" fill="#dedede" stroke-width="1.4" d="M1068,307 L1075,300 L1087,301 L1089,307 L1109,311 L1115,316 L1124,318 L1122,340 L1109,337 L1087,332 L1081,335 L1068,331 Z"/>
<path fill="none" stroke="#fff" stroke-width="3" d="M1074,308 L1074,328 M1096,312 L1095,330"/>
<path stroke="#2b2b2b" stroke-width="1.1" stroke-linejoin="round" stroke-linecap="round" fill="none" d="M1088,306 L1087,332 M1110,312 L1109,336 M1116,316 L1114,338"/>
<!-- teeth row along bottom right -->
<path fill="none" stroke="#333" stroke-width="1.7" stroke-dasharray="1.8 8.2" d="M1066,344 L968,401 L904,437"/>
<path fill="none" stroke="#333" stroke-width="3.6" stroke-dasharray="1.6 8.4" d="M1066,341 L968,398 L904,434"/>
<!-- filler neck -->
<path stroke="#262626" stroke-width="1.9" stroke-linejoin="round" stroke-linecap="round" fill="#b4b4b4" d="M545,206 L549,240 Q568,250 587,240 L591,206 Z"/>
<ellipse stroke="#262626" stroke-linejoin="round" stroke-linecap="round" cx="568" cy="206" rx="23" ry="13.5" fill="#c4c4c4" stroke-width="1.8"/>
<ellipse stroke="#2b2b2b" stroke-width="1.1" stroke-linejoin="round" stroke-linecap="round" cx="568" cy="208" rx="18" ry="9.5" fill="#a0a0a0"/><path stroke="none" fill="#d0d0d0" d="M552,210 q6,8 20,7 q-10,-4 -12,-14z"/>
<!-- bolt bosses on flange -->
<g stroke="#2b2b2b" stroke-width="1.1" stroke-linejoin="round" stroke-linecap="round" fill="#c0c0c0">
<ellipse cx="525" cy="250" rx="6" ry="4"/>
<ellipse cx="604" cy="295" rx="9" ry="5.5"/>
<ellipse cx="688" cy="343" rx="9" ry="5.5"/>
<ellipse cx="772" cy="390" rx="9" ry="5.5"/>
<ellipse cx="848" cy="433" rx="8" ry="5"/>
<ellipse cx="1022" cy="368" rx="9" ry="5.5"/>
<ellipse cx="616" cy="190" rx="8" ry="5"/>
</g>
<!-- post left front -->
<path stroke="#2b2b2b" stroke-width="1.1" stroke-linejoin="round" stroke-linecap="round" fill="#a8a8a8" d="M541,250 V268 Q548,272 555,268 V250 Q548,243 541,250Z"/>
<!-- wells -->
<g transform="translate(667,226)">
<path stroke="none" fill="#9b9b9b" d="M-76,-4 L-2,-45 L42,-21 L-32,22Z"/>
<ellipse cx="0" cy="-4" rx="18" ry="11" fill="#b4b4b4"/>
<path stroke="#2b2b2b" stroke-linejoin="round" stroke-linecap="round" fill="none" stroke-width="1.6" d="M-17,-8 A17,10 0 0 1 17,-8 M-11,-5 A12,6 0 0 1 12,-5"/>
<ellipse cx="0" cy="0" rx="9" ry="4.2" fill="#fff"/>
<path stroke-linejoin="round" stroke-linecap="round" fill="none" stroke-width="2" stroke="#222" d="M-52,-10 V12 M-45,-8 V12 M-52,-10 L-45,-8 M-45,-7 L-13,9 M-32,25 Q-22,23 -13,12 L0,5 M11,4 L38,19 M-52,12 L-32,25"/>
<path fill="none" stroke="#bcbcbc" stroke-width="1.4" d="M-76,-4 L-2,-45 L42,-21"/>
</g>
<g transform="translate(752,274)">
<path stroke="none" fill="#9b9b9b" d="M-76,-4 L-2,-45 L42,-21 L-32,22Z"/>
<ellipse cx="0" cy="-4" rx="18" ry="11" fill="#b4b4b4"/>
<path stroke="#2b2b2b" stroke-linejoin="round" stroke-linecap="round" fill="none" stroke-width="1.6" d="M-17,-8 A17,10 0 0 1 17,-8 M-11,-5 A12,6 0 0 1 12,-5"/>
<ellipse cx="0" cy="0" rx="9" ry="4.2" fill="#fff"/>
<path stroke-linejoin="round" stroke-linecap="round" fill="none" stroke-width="2" stroke="#222" d="M-52,-10 V12 M-45,-8 V12 M-52,-10 L-45,-8 M-45,-7 L-13,9 M-32,25 Q-22,23 -13,12 L0,5 M11,4 L38,19 M-52,12 L-32,25"/>
<path fill="none" stroke="#bcbcbc" stroke-width="1.4" d="M-76,-4 L-2,-45 L42,-21"/>
</g>
<g transform="translate(835,323)">
<path stroke="none" fill="#9b9b9b" d="M-76,-4 L-2,-45 L42,-21 L-32,22Z"/>
<ellipse cx="0" cy="-4" rx="18" ry="11" fill="#b4b4b4"/>
<path stroke="#2b2b2b" stroke-linejoin="round" stroke-linecap="round" fill="none" stroke-width="1.6" d="M-17,-8 A17,10 0 0 1 17,-8 M-11,-5 A12,6 0 0 1 12,-5"/>
<ellipse cx="0" cy="0" rx="9" ry="4.2" fill="#fff"/>
<path stroke-linejoin="round" stroke-linecap="round" fill="none" stroke-width="2" stroke="#222" d="M-52,-10 V12 M-45,-8 V12 M-52,-10 L-45,-8 M-45,-7 L-13,9 M-32,25 Q-22,23 -13,12 L0,5 M11,4 L38,19 M-52,12 L-32,25"/>
<path fill="none" stroke="#bcbcbc" stroke-width="1.4" d="M-76,-4 L-2,-45 L42,-21"/>
</g>
<g transform="translate(918,371)">
<path stroke="none" fill="#9b9b9b" d="M-76,-4 L-2,-45 L42,-21 L-32,22Z"/>
<ellipse cx="0" cy="-4" rx="18" ry="11" fill="#b4b4b4"/>
<path stroke="#2b2b2b" stroke-linejoin="round" stroke-linecap="round" fill="none" stroke-width="1.6" d="M-17,-8 A17,10 0 0 1 17,-8 M-11,-5 A12,6 0 0 1 12,-5"/>
<ellipse cx="0" cy="0" rx="9" ry="4.2" fill="#fff"/>
<path stroke-linejoin="round" stroke-linecap="round" fill="none" stroke-width="2" stroke="#222" d="M-52,-10 V12 M-45,-8 V12 M-52,-10 L-45,-8 M-45,-7 L-13,9 M-32,25 Q-22,23 -13,12 L0,5 M11,4 L38,19 M-52,12 L-32,25"/>
<path fill="none" stroke="#bcbcbc" stroke-width="1.4" d="M-76,-4 L-2,-45 L42,-21"/>
</g>
<path stroke-linejoin="round" stroke-linecap="round" fill="none" stroke-width="2" stroke="#222" d="M678,230 L719,210 M667,231 L636,252 M763,278 L774,272 Q788,265 794,256 L812,246 M846,327 L888,306 M835,328 L805,348 M929,375 L940,370 Q954,362 960,353 L976,344"/>
<g transform="translate(709,228)"><ellipse cx="0" cy="0" rx="12" ry="7.5" fill="#b0b0b0"/><path stroke="#2b2b2b" stroke-linejoin="round" stroke-linecap="round" fill="none" stroke-width="1.6" d="M-12,-1 A12,7.5 0 0 1 12,-1 M-7,2 A7,4 0 0 1 7,2"/><ellipse cx="0" cy="2" rx="4" ry="2.2" fill="#555"/></g>
<g transform="translate(877,327)"><ellipse cx="0" cy="0" rx="12" ry="7.5" fill="#b0b0b0"/><path stroke="#2b2b2b" stroke-linejoin="round" stroke-linecap="round" fill="none" stroke-width="1.6" d="M-12,-1 A12,7.5 0 0 1 12,-1 M-7,2 A7,4 0 0 1 7,2"/><ellipse cx="0" cy="2" rx="4" ry="2.2" fill="#555"/></g>
<g transform="translate(640,262)"><path stroke="#2b2b2b" stroke-width="1.1" stroke-linejoin="round" stroke-linecap="round" fill="#a9a9a9" d="M-7,-4 V8 Q0,12 7,8 V-4 Q0,-10 -7,-4Z"/><ellipse cx="0" cy="-3" rx="4" ry="2.4" fill="#777"/></g>
<g transform="translate(811,252)"><path stroke="#2b2b2b" stroke-width="1.1" stroke-linejoin="round" stroke-linecap="round" fill="#a9a9a9" d="M-7,-4 V8 Q0,12 7,8 V-4 Q0,-10 -7,-4Z"/><ellipse cx="0" cy="-3" rx="4" ry="2.4" fill="#777"/></g>
<g transform="translate(806,358)"><path stroke="#2b2b2b" stroke-width="1.1" stroke-linejoin="round" stroke-linecap="round" fill="#a9a9a9" d="M-7,-4 V8 Q0,12 7,8 V-4 Q0,-10 -7,-4Z"/><ellipse cx="0" cy="-3" rx="4" ry="2.4" fill="#777"/></g>
<g transform="translate(979,350)"><path stroke="#2b2b2b" stroke-width="1.1" stroke-linejoin="round" stroke-linecap="round" fill="#a9a9a9" d="M-7,-4 V8 Q0,12 7,8 V-4 Q0,-10 -7,-4Z"/><ellipse cx="0" cy="-3" rx="4" ry="2.4" fill="#777"/></g>
<g transform="translate(621,188)"><path stroke="#2b2b2b" stroke-width="1.1" stroke-linejoin="round" stroke-linecap="round" fill="#a9a9a9" d="M-7,-4 V8 Q0,12 7,8 V-4 Q0,-10 -7,-4Z"/><ellipse cx="0" cy="-3" rx="4" ry="2.4" fill="#777"/></g>
</g>

<!-- 60_bolts.svg -->
<g id="bolts">
<!-- part 3 oil cap -->
<path stroke="#262626" stroke-linejoin="round" stroke-linecap="round" fill="#9c9c9c" stroke-width="1.8" d="M546,106 L549,122 Q566,130 586,122 L588,104Z"/>
<path stroke="none" fill="#c9c9c9" d="M552,110 h10 v13 h-10z"/>
<path stroke="#262626" stroke-linejoin="round" stroke-linecap="round" fill="#b3b3b3" stroke-width="1.7" d="M533.5,86 Q536,72 554,70 Q575,64 592,65.5 Q600,68 601,74.5 Q602,84 598,92 Q590,104 566,108 Q548,112 545,109.7 Q534,100 533.5,86Z"/>
<path stroke="none" fill="#848484" d="M538,80 Q548,70 570,67.5 Q590,65 598,69 Q590,76 566,80 Q548,84 538,80Z"/>
<path stroke="none" fill="#cbcbcb" d="M540,94 Q556,104 582,98 Q572,106 558,106 Q546,103 540,94Z"/>
<path stroke="#444" stroke-width="1.6" stroke-dasharray="14 5" fill="none" d="M568,130 V214"/>
<!-- part 4 stud + nut -->
<path stroke="#262626" stroke-linejoin="round" stroke-linecap="round" fill="#b5b5b5" stroke-width="1.8" d="M612,27 Q616,23 620,27 V40 L625,45 V50 L620,54 V80 L618,86 H614 L612,80 V54 L607,50 V45 L612,40Z"/>
<path stroke="none" fill="#e0e0e0" d="M615,28 h2 v52 h-2z"/>
<path stroke="#2b2b2b" stroke-linejoin="round" stroke-linecap="round" fill="none" stroke-width="1.3" d="M616,86 V97 M616,123 V138 M616,154 V186"/>
<path stroke="#262626" stroke-linejoin="round" stroke-linecap="round" fill="#b0b0b0" stroke-width="1.8" d="M604,102 Q616,94 628,102 Q628,108 622,110 H610 Q604,108 604,102Z"/>
<path stroke="#262626" stroke-linejoin="round" stroke-linecap="round" fill="#c4c4c4" stroke-width="1.8" d="M608,113 Q616,109 624,113 V120 Q616,125 608,120Z"/>
<!-- part 7 washer -->
<ellipse cx="616.5" cy="145.6" rx="12" ry="7.5" fill="#4a4a4a" stroke="#1c1c1c" stroke-width="1.8"/>
<ellipse cx="616" cy="145" rx="5.5" ry="3" fill="#cfcfcf" stroke="#222" stroke-width="1"/>
<!-- bolt 16 -->
<path stroke="#262626" stroke-linejoin="round" stroke-linecap="round" fill="#adadad" stroke-width="1.8" d="M504,424 V570 L507,576 H512 L515,570 V424Z"/>
<path stroke="#262626" stroke-linejoin="round" stroke-linecap="round" fill="#8f8f8f" stroke-width="1.8" d="M498,408 Q509,400 520,408 L521,418 Q509,428 497,418Z"/>
<path stroke="none" fill="#dcdcdc" d="M507,426 h3 v142 h-3z"/>
<path stroke="#2b2b2b" stroke-linejoin="round" stroke-linecap="round" fill="none" stroke-width="1.3" d="M509.500,577 V634"/>
<path stroke="#fff" stroke-width="3" d="M509.500,640 V654" fill="none"/>
<!-- stud 13 -->
<path stroke="#262626" stroke-linejoin="round" stroke-linecap="round" fill="#b5b5b5" stroke-width="1.8" d="M466,532 Q470.500,527 475,532 V550 L478,554 V560 L475,564 V600 L473,604 H468 L466,600 V564 L463,560 V554 L466,550Z"/>
<path stroke="#444" stroke-width="1.6" fill="none" stroke-dasharray="12 5" d="M470.500,606 V706"/>
<!-- bolt 10 -->
<path stroke="#262626" stroke-linejoin="round" stroke-linecap="round" fill="#adadad" stroke-width="1.8" d="M732,420 V452 L735,458 H740 L743,452 V420Z"/>
<path stroke="#262626" stroke-linejoin="round" stroke-linecap="round" fill="#8f8f8f" stroke-width="1.8" d="M729,408 Q738,398 747,408 L746,416 Q738,424 730,416Z"/>
<path stroke="#444" fill="none" stroke-dasharray="12 5" stroke-width="1.3" d="M737.500,460 V528"/>
<!-- bolt 14 -->
<path stroke="#262626" stroke-linejoin="round" stroke-linecap="round" fill="#adadad" stroke-width="1.8" d="M961,588 V624 L965,631 H971 L975,624 V588Z"/>
<path stroke="#262626" stroke-linejoin="round" stroke-linecap="round" fill="#8f8f8f" stroke-width="1.8" d="M957,578 Q968,566 979,578 L978,586 Q968,594 958,586Z"/>
<path stroke="#2b2b2b" stroke-linejoin="round" stroke-linecap="round" fill="none" stroke-width="1.3" d="M968,632 V690"/>
<path stroke="#fff" stroke-width="2.6" stroke-dasharray="8 6" d="M968,692 V734" fill="none"/>
<!-- bolt 12 -->
<path stroke="#262626" stroke-linejoin="round" stroke-linecap="round" fill="#adadad" stroke-width="1.8" d="M547,816 V922 L550,930 H558 L561,922 V816Z"/>
<path stroke="#262626" stroke-linejoin="round" stroke-linecap="round" fill="#8f8f8f" stroke-width="1.8" d="M541,802 Q553,788 565,802 L564,811 Q553,820 542,811Z"/>
<path stroke="none" fill="#dcdcdc" d="M551,818 h3 v104 h-3z"/>
<path stroke="#2b2b2b" stroke-linejoin="round" stroke-linecap="round" fill="none" stroke-width="1.3" d="M554,932 V988"/>
<!-- part 15 -->
<path stroke="#262626" stroke-linejoin="round" stroke-linecap="round" fill="#8f8f8f" stroke-width="1.8" d="M604,842 Q611.500,837 619,842 V856 Q611.500,861 604,856Z"/>
<path stroke="#444" fill="none" stroke-dasharray="16 6" stroke-width="1.5" d="M613,862 V1040"/>
<!-- bolt 11 -->
<path stroke="#262626" stroke-linejoin="round" stroke-linecap="round" fill="#adadad" stroke-width="1.8" d="M995,924 V1044 L999,1052 H1007 L1011,1044 V924Z"/>
<path stroke="#262626" stroke-linejoin="round" stroke-linecap="round" fill="#8f8f8f" stroke-width="1.8" d="M987,908 Q1002,892 1017,908 L1015,917 Q1002,928 989,917Z"/>
<path stroke="none" fill="#dcdcdc" d="M1000,926 h3 v118 h-3z"/>
<path stroke="#2b2b2b" stroke-linejoin="round" stroke-linecap="round" fill="none" stroke-width="1.3" d="M1003,1054 V1086 M1003,1110 V1156"/>
<path stroke="#fff" stroke-width="2.6" d="M1003,1090 V1106" fill="none"/>
<!-- part 8 -->
<ellipse stroke="#262626" stroke-linejoin="round" stroke-linecap="round" cx="845" cy="945" rx="14" ry="15" fill="#999" stroke-width="1.4"/>
<ellipse stroke="none" cx="842" cy="942" rx="10" ry="11" fill="#c4c4c4"/>
<path stroke="#2b2b2b" stroke-linejoin="round" stroke-linecap="round" fill="none" stroke-width="1.2" d="M832,953 L812,963"/>
<!-- part 17 -->
<path stroke="#262626" stroke-linejoin="round" stroke-linecap="round" fill="#8d8d8d" stroke-width="1.8" d="M583,1324 Q595,1314 607,1324 V1342 Q595,1352 583,1342Z"/>
<ellipse stroke="#2b2b2b" stroke-width="1.1" stroke-linejoin="round" stroke-linecap="round" cx="595" cy="1324" rx="12" ry="6" fill="#6e6e6e"/>
<path stroke="#2b2b2b" stroke-linejoin="round" stroke-linecap="round" fill="none" stroke-width="1.3" d="M596,1176 V1320"/>
<path stroke="#fff" stroke-width="2.2" d="M596.500,1232 V1262" fill="none"/>
<!-- part 9 -->
<ellipse stroke="#262626" stroke-linejoin="round" stroke-linecap="round" cx="657.600" cy="1388" rx="15" ry="10.7" fill="#999" stroke-width="1.4"/>
<ellipse stroke="none" cx="656" cy="1386" rx="11" ry="7.500" fill="#c2c2c2"/>
<path fill="#111" d="M664,1214 Q646,1250 641,1299 Q640,1335 649,1366 L653,1365 Q644,1334 643,1299 Q647,1250 665,1215Z"/>
</g>

<!-- 70_leaders.svg -->
<g id="leaders" stroke="#0a0a0a" stroke-width="2.8" stroke-linecap="round" fill="none">
<path d="M627,55 H714 M633,100 L714,56.500"/>
<path d="M444,128.500 L540,110.500"/>
<path d="M444,197 L601,149"/>
<path d="M964,110 L922,188"/>
<path d="M654.700,384 L728,434"/>
<path d="M412,437 L500,470.500"/>
<path d="M386.700,544 L461,574.500"/>
<path d="M1092,460 L1169.300,482.700"/>
<path d="M1077.300,578.700 L978.700,604"/>
<path d="M1177.300,645.300 L1046,717"/>
<path d="M480.600,846.600 L541.800,873.600"/>
<path d="M622.800,851.300 L653.400,860"/>
<path d="M865.300,952 L924,980"/>
<path d="M1016,964 L1110.700,988.800"/>
<path d="M370.800,1069.800 L457,1088.900"/>
<path d="M372,1199.300 L468,1255.300"/>
<path d="M476,1362 L577.300,1336.700"/>
<path d="M549.300,1416.700 L637.300,1393.200"/>
<path fill="#0a0a0a" stroke="#0a0a0a" stroke-width="1.2" stroke-linejoin="round" d="M1157,136.5 Q1186,127.5 1214,127 Q1243,127.5 1272,137 Q1243,131.5 1214,131 Q1186,131.5 1157,136.5Z"/>
<path fill="#0a0a0a" stroke="#0a0a0a" stroke-width="1.2" stroke-linejoin="round" d="M204.500,903 Q232,895 261,894.500 Q290,895 317.500,903 Q290,899 261,898.500 Q232,899 204.500,903Z"/>
</g>

<!-- 80_labels.svg -->
<g id="labels" font-size="32">
<circle cx="442.500" cy="839.500" r="37" fill="#cddaf6"/>
<text transform="translate(720.4,59.7) scale(1.188,1.014)">4</text>
<text transform="translate(418.1,141.9) scale(1.150,0.986)">3</text>
<text transform="translate(415.7,211.8) scale(1.204,1.000)">7</text>
<text transform="translate(960.6,104.4) scale(0.919,0.920)">C</text>
<text transform="translate(1202.6,115.2) scale(1.301,0.955)">2</text>
<text transform="translate(1136.3,167.9) scale(1.156,0.986)">C+3+4+7</text>
<text transform="translate(607.8,380.2) scale(1.181,0.986)">10</text>
<text transform="translate(366.6,441.6) scale(1.141,0.986)">16</text>
<text transform="translate(338.6,544.2) scale(1.141,0.986)">13</text>
<text transform="translate(1182.4,496.2) scale(1.173,0.924)">6</text>
<text transform="translate(1083.9,584.5) scale(1.136,1.014)">14</text>
<text transform="translate(1185.4,641.9) scale(1.029,0.942)">A</text>
<text transform="translate(425.1,853.0) scale(1.193,0.973)" fill="#16233f" style="stroke:#16233f">12</text>
<text transform="translate(662.6,875.4) scale(1.163,0.942)">15</text>
<text transform="translate(249.4,884.2) scale(0.991,0.969)">1</text>
<text transform="translate(224.1,934.7) scale(1.095,0.933)">A+B</text>
<text transform="translate(931.7,997.6) scale(1.150,0.929)">8</text>
<text transform="translate(1118.7,999.2) scale(1.107,0.956)">11</text>
<text transform="translate(339.9,1079.8) scale(1.003,0.951)">B</text>
<text transform="translate(342.4,1202.2) scale(1.150,0.938)">5</text>
<text transform="translate(427.9,1373.2) scale(1.141,0.942)">17</text>
<text transform="translate(522.4,1430.9) scale(1.173,0.898)">9</text>
</g>

</g></svg></body></html>
